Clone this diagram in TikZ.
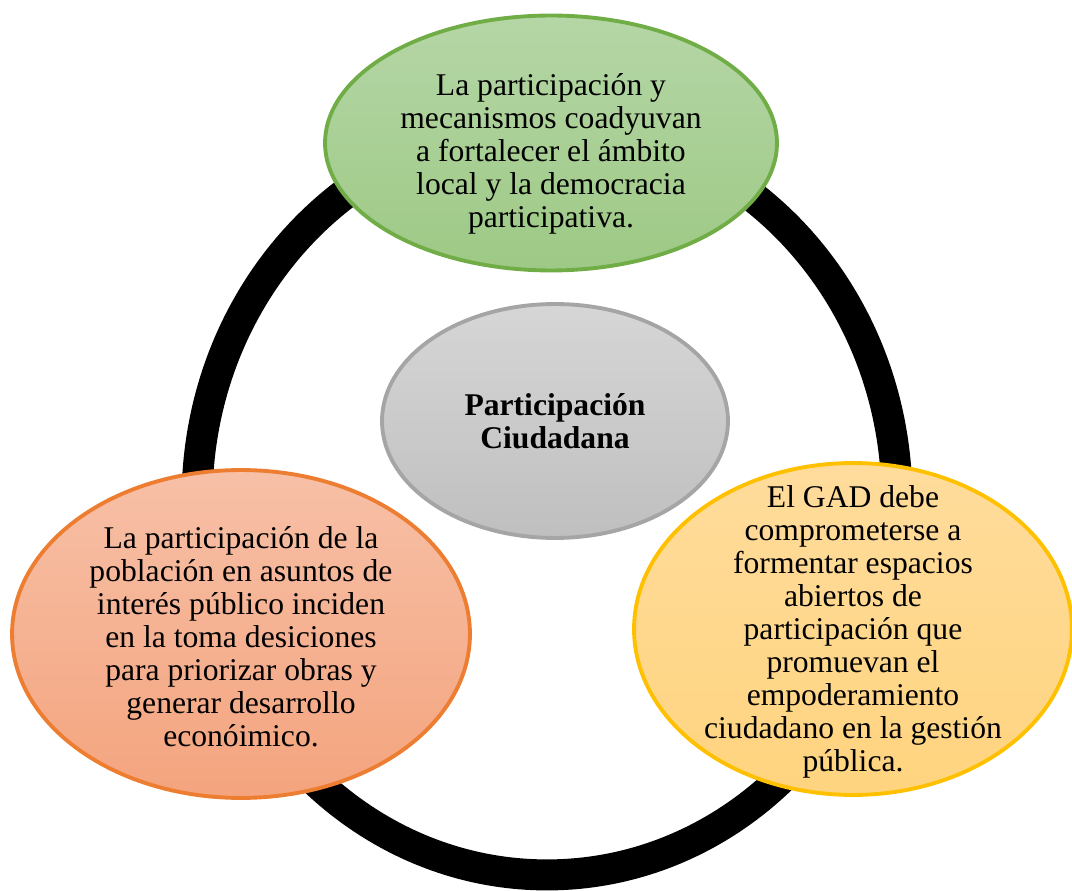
\documentclass[tikz,border=0pt]{standalone}
\usepackage{fontspec}
\setmainfont{Liberation Serif}
\usetikzlibrary{shapes.geometric}

\definecolor{grnline}{HTML}{70AD47}
\definecolor{grntop}{HTML}{B5D6A6}
\definecolor{grnbot}{HTML}{9DC985}
\definecolor{gryline}{HTML}{A5A5A5}
\definecolor{grytop}{HTML}{D6D6D6}
\definecolor{grybot}{HTML}{BFBFBF}
\definecolor{orgline}{HTML}{ED7D31}
\definecolor{orgtop}{HTML}{F7C0A7}
\definecolor{orgbot}{HTML}{F4A47E}
\definecolor{ylwline}{HTML}{FFC000}
\definecolor{ylwtop}{HTML}{FFDC9C}
\definecolor{ylwbot}{HTML}{FFD47F}

\begin{document}
\begin{tikzpicture}[x=0.02cm,y=-0.02cm,
    bubble/.style={ellipse,line width=2.2pt,inner sep=0pt},
    txt/.style={align=center,font=\fontsize{18}{18.8}\selectfont}]
    \useasboundingbox (0,0) rectangle (1072,891);

    % ring behind the bubbles
    \coordinate (hub) at (547,500);
    \draw[line width=0.62cm] (hub) ellipse [x radius=7cm,y radius=7.5cm];

    \node (core) [bubble,draw=gryline,top color=grytop,bottom color=grybot,
        minimum width=6.92cm,minimum height=4.68cm] at (555,421) {};
    \node (top) [bubble,draw=grnline,top color=grntop,bottom color=grnbot,
        minimum width=9.04cm,minimum height=5.1cm] at (551,143) {};
    \node (left) [bubble,draw=orgline,top color=orgtop,bottom color=orgbot,
        minimum width=9.16cm,minimum height=6.56cm] at (241,634) {};
    \node (right) [bubble,draw=ylwline,top color=ylwtop,bottom color=ylwbot,
        minimum width=8.76cm,minimum height=6.64cm] at (853,629) {};

    \node (coretext) [txt,font=\fontsize{18}{18.8}\selectfont\bfseries] at (555,421)
        {Participación\\Ciudadana};
    \node (toptext) [txt] at (551,154)
        {La participación y\\mecanismos coadyuvan\\a fortalecer el ámbito\\local y la democracia\\participativa.};
    \node (lefttext) [txt] at (241,637)
        {La participación de la\\población en asuntos de\\interés público inciden\\en la toma desiciones\\para priorizar obras y\\generar desarrollo\\econóimico.};
    \node (righttext) [txt] at (853,632)
        {El GAD debe\\comprometerse a\\formentar espacios\\abiertos de\\participación que\\promuevan el\\empoderamiento\\ciudadano en la gestión\\pública.};
\end{tikzpicture}
\end{document}
